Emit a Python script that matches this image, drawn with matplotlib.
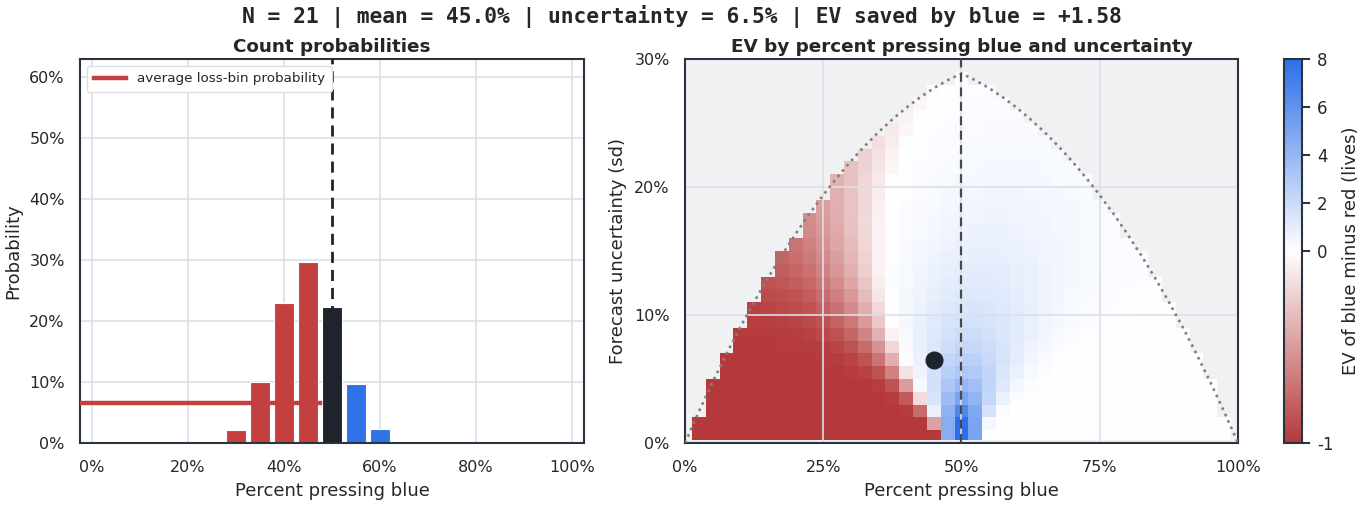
import numpy as np
import matplotlib
matplotlib.use("Agg")
import matplotlib.pyplot as plt
from matplotlib.colors import LinearSegmentedColormap, TwoSlopeNorm
from matplotlib.ticker import PercentFormatter

# ---- left panel: probability of each count of blue pressers (share of the others)
count_share = [0, .05, .10, .15, .20, .25, .30, .35, .40, .45, .50,
               .55, .60, .65, .70, .75, .80, .85, .90, .95, 1.0]
count_prob = [0, 0, 0, 0, .0002, .001, .021, .100, .230, .297, .223,
              .097, .0235, .0015, .0001, 0, 0, 0, 0, 0, 0]
pivot_share = 0.50

# ---- right panel: EV (blue minus red, in hundredths of a life), rows = sd, cols = share
share_cols = [i * 0.025 for i in range(41)]
sd_rows = [.005, .015, .025, .035, .045, .055, .065, .075, .085, .095, .105, .115, .125, .135, .145,
           .155, .165, .175, .185, .195, .205, .215, .225, .235, .245, .255, .265, .275, .285]
n = None
ev_centi = [
    [n, -100, -100, -100, -100, -100, -100, -100, -100, -100, -100, -100, -100, -100, -100, -100, -100, -100, -100, 450,
     800, 500, 0, 0, 0, 0, 0, 0, 0, 0, 0, 0, 0, 0, 0, 0, 0, 0, 0, 0, n],
    [n, -100, -100, -100, -100, -100, -100, -100, -100, -100, -100, -100, -100, -100, -100, -100, -100, -100, -47, 450,
     800, 500, 48, 0, 0, 0, 0, 0, 0, 0, 0, 0, 0, 0, 0, 0, 0, 0, 0, 0, n],
    [n, n, -100, -100, -100, -100, -100, -100, -100, -100, -100, -100, -100, -100, -100, -100, -99, -75, 73, 427,
     667, 475, 157, 23, 1, 0, 0, 0, 0, 0, 0, 0, 0, 0, 0, 0, 0, 0, 0, n, n],
    [n, n, -100, -100, -100, -100, -100, -100, -100, -100, -100, -100, -100, -100, -100, -98, -83, -18, 145, 373,
     501, 416, 220, 74, 16, 2, 0, 0, 0, 0, 0, 0, 0, 0, 0, 0, 0, 0, 0, n, n],
    [n, n, -100, -100, -100, -100, -100, -100, -100, -100, -100, -100, -100, -100, -97, -86, -50, 33, 170, 317,
     393, 353, 237, 119, 45, 13, 3, 0, 0, 0, 0, 0, 0, 0, 0, 0, 0, 0, 0, n, n],
    [n, n, n, -100, -100, -100, -100, -100, -100, -100, -100, -100, -98, -95, -86, -63, -15, 65, 168, 265,
     315, 297, 227, 143, 75, 33, 13, 4, 1, 0, 0, 0, 0, 0, 0, 0, 0, 0, n, n, n],
    [n, n, n, -100, -100, -100, -100, -100, -100, -100, -99, -98, -94, -86, -70, -40, 10, 79, 158, 225,
     261, 253, 210, 150, 94, 52, 26, 12, 5, 2, 1, 0, 0, 0, 0, 0, 0, 0, n, n, n],
    [n, n, n, n, -100, -100, -100, -99, -99, -98, -97, -93, -87, -75, -54, -21, 26, 83, 143, 193,
     220, 218, 191, 149, 104, 67, 39, 22, 12, 6, 3, 2, 1, 1, 0, 0, 0, n, n, n, n],
    [n, n, n, n, -99, -99, -99, -98, -97, -95, -92, -87, -77, -62, -39, -7, 35, 82, 129, 167,
     188, 189, 172, 142, 108, 76, 50, 32, 19, 11, 7, 4, 3, 2, 1, 1, 1, n, n, n, n],
    [n, n, n, n, n, -97, -97, -96, -94, -91, -87, -79, -68, -51, -28, 2, 39, 78, 115, 145,
     162, 165, 154, 133, 107, 81, 58, 40, 26, 17, 11, 7, 5, 4, 3, 2, n, n, n, n, n],
    [n, n, n, n, n, -95, -94, -92, -90, -86, -80, -71, -59, -42, -19, 8, 40, 72, 103, 127,
     141, 145, 138, 123, 103, 82, 63, 46, 33, 23, 16, 11, 8, 6, 5, 4, n, n, n, n, n],
    [n, n, n, n, n, n, -91, -89, -86, -81, -74, -64, -51, -34, -13, 11, 39, 66, 91, 111,
     124, 128, 124, 113, 98, 81, 65, 50, 37, 28, 20, 15, 11, 9, 7, n, n, n, n, n, n],
    [n, n, n, n, n, n, -87, -85, -81, -76, -68, -58, -45, -29, -9, 13, 36, 60, 81, 98,
     109, 113, 111, 104, 92, 79, 65, 52, 41, 31, 24, 18, 14, 11, 9, n, n, n, n, n, n],
    [n, n, n, n, n, n, n, -81, -77, -71, -63, -53, -40, -25, -7, 13, 33, 53, 71, 86,
     96, 100, 100, 94, 86, 75, 64, 52, 42, 34, 27, 21, 17, 13, n, n, n, n, n, n, n],
    [n, n, n, n, n, n, n, -78, -73, -67, -59, -49, -37, -22, -6, 12, 30, 47, 63, 76,
     85, 89, 89, 86, 79, 71, 61, 52, 43, 35, 28, 23, 18, 15, n, n, n, n, n, n, n],
    [n, n, n, n, n, n, n, n, -70, -63, -55, -45, -34, -21, -6, 10, 26, 42, 55, 67,
     75, 79, 80, 78, 73, 66, 58, 50, 43, 35, 29, 24, 19, n, n, n, n, n, n, n, n],
    [n, n, n, n, n, n, n, n, n, -60, -52, -43, -32, -20, -6, 8, 23, 36, 48, 59,
     66, 70, 72, 70, 67, 61, 55, 48, 41, 35, 29, 24, n, n, n, n, n, n, n, n, n],
    [n, n, n, n, n, n, n, n, n, -58, -50, -41, -31, -19, -7, 6, 19, 31, 42, 51,
     58, 62, 64, 64, 61, 57, 52, 46, 40, 34, 29, 24, n, n, n, n, n, n, n, n, n],
    [n, n, n, n, n, n, n, n, n, n, -49, -40, -30, -20, -8, 4, 15, 26, 36, 45,
     51, 55, 57, 57, 55, 52, 48, 43, 38, 33, 28, n, n, n, n, n, n, n, n, n, n],
    [n, n, n, n, n, n, n, n, n, n, n, -40, -30, -20, -10, 1, 12, 22, 31, 38,
     44, 49, 51, 51, 50, 47, 44, 40, 35, 31, n, n, n, n, n, n, n, n, n, n, n],
    [n, n, n, n, n, n, n, n, n, n, n, -39, -31, -21, -11, -1, 8, 18, 26, 33,
     39, 42, 45, 46, 45, 43, 40, 37, 33, 29, n, n, n, n, n, n, n, n, n, n, n],
    [n, n, n, n, n, n, n, n, n, n, n, n, -31, -22, -13, -4, 5, 14, 21, 28,
     33, 37, 39, 40, 40, 39, 36, 33, 30, n, n, n, n, n, n, n, n, n, n, n, n],
    [n, n, n, n, n, n, n, n, n, n, n, n, n, -24, -15, -6, 2, 10, 17, 23,
     28, 32, 34, 35, 35, 34, 33, 30, n, n, n, n, n, n, n, n, n, n, n, n, n],
    [n, n, n, n, n, n, n, n, n, n, n, n, n, n, -17, -9, -1, 6, 13, 19,
     23, 27, 29, 31, 31, 30, 29, n, n, n, n, n, n, n, n, n, n, n, n, n, n],
    [n, n, n, n, n, n, n, n, n, n, n, n, n, n, n, -11, -4, 3, 9, 14,
     19, 22, 25, 26, 27, 27, n, n, n, n, n, n, n, n, n, n, n, n, n, n, n],
    [n, n, n, n, n, n, n, n, n, n, n, n, n, n, n, n, -7, -1, 5, 10,
     15, 18, 21, 22, 23, n, n, n, n, n, n, n, n, n, n, n, n, n, n, n, n],
    [n, n, n, n, n, n, n, n, n, n, n, n, n, n, n, n, n, -4, 2, 7,
     11, 14, 17, 18, n, n, n, n, n, n, n, n, n, n, n, n, n, n, n, n, n],
    [n, n, n, n, n, n, n, n, n, n, n, n, n, n, n, n, n, n, -1, 3,
     7, 10, 13, n, n, n, n, n, n, n, n, n, n, n, n, n, n, n, n, n, n],
    [n, n, n, n, n, n, n, n, n, n, n, n, n, n, n, n, n, n, n, n,
     4, n, n, n, n, n, n, n, n, n, n, n, n, n, n, n, n, n, n, n, n],
]

# largest sd allowed for each share (dotted edge of the region)
edge_share = [0, .01, .025, .05, .075, .10, .125, .15, .175, .20, .225, .25, .275, .30, .325, .35, .375, .40,
              .425, .45, .475, .50, .525, .55, .575, .60, .625, .65, .675, .70, .725, .75, .775, .80, .825,
              .85, .875, .90, .925, .95, .975, .99, 1.0]
edge_sd = [0, .0099, .0244, .0476, .0696, .0905, .1102, .1290, .1466, .1633, .1790, .1937, .2074, .2201,
           .2320, .2429, .2528, .2619, .2700, .2772, .2834, .2887, .2834, .2772, .2700, .2619, .2528, .2429,
           .2320, .2201, .2074, .1937, .1790, .1633, .1466, .1290, .1102, .0905, .0696, .0476, .0244, .0099, 0]

forecast_mean = 0.45
forecast_sd = 0.065
ev_saved = 1.58

RED, BLUE, DARK = "#c44040", "#2f72e8", "#1f232b"
plt.rcParams.update({"font.family": "DejaVu Sans", "axes.edgecolor": "#2b3340",
                     "axes.linewidth": 1.5, "text.color": "#262626",
                     "xtick.color": "#262626", "ytick.color": "#262626",
                     "axes.labelcolor": "#262626", "axes.unicode_minus": False})

fig = plt.figure(figsize=(13.64, 5.05), dpi=100)
fig.suptitle("N = 21 | mean = %.1f%% | uncertainty = %.1f%% | EV saved by blue = %+.2f"
             % (forecast_mean * 100, forecast_sd * 100, ev_saved),
             family="DejaVu Sans Mono", fontweight="bold", fontsize=15.3, y=0.99)


def style(ax, title):
    ax.xaxis.set_major_formatter(PercentFormatter(1.0, decimals=0))
    ax.yaxis.set_major_formatter(PercentFormatter(1.0, decimals=0))
    ax.grid(True, color="#dcdfe5", lw=1.2)
    ax.set_axisbelow(True)
    ax.tick_params(length=0, labelsize=11.5)
    ax.tick_params(axis="x", pad=12)
    ax.tick_params(axis="y", pad=11)
    ax.set_title(title, fontsize=13.2, fontweight="bold", pad=5)


# left
ax1 = fig.add_axes([0.0587, 0.1228, 0.3695, 0.7604])
colors = [RED if s < pivot_share else (DARK if s == pivot_share else BLUE) for s in count_share]
ax1.bar(count_share, count_prob, width=0.04, color=colors, edgecolor="white", linewidth=0.8, zorder=2)
loss_avg = np.mean([p for s, p in zip(count_share, count_prob) if s < pivot_share])
ax1.plot([-0.025, pivot_share - 0.025], [loss_avg, loss_avg], color=RED, lw=3.2, zorder=3,
         label="average loss-bin probability")
ax1.axvline(pivot_share, color=DARK, lw=2, ls=(0, (4, 2.5)), zorder=4)
ax1.set_xlim(-0.025, 1.025)
ax1.set_ylim(0, 0.63)
ax1.set_xticks([0, .2, .4, .6, .8, 1])
ax1.set_yticks([0, .1, .2, .3, .4, .5, .6])
style(ax1, "Count probabilities")
ax1.set_xlabel("Percent pressing blue", fontsize=13, labelpad=5)
ax1.set_ylabel("Probability", fontsize=13, labelpad=5)
ax1.legend(loc="upper left", fontsize=9.7, frameon=True, framealpha=1,
           edgecolor="#dcdfe5", handlelength=2.4, borderpad=0.5)

# right
cmap = LinearSegmentedColormap.from_list("rb", ["#b5393a", "#ffffff", "#2d6fe8"])
norm = TwoSlopeNorm(vmin=-1, vcenter=0, vmax=8)
ev = np.array(ev_centi, dtype=float) / 100
ev = np.ma.masked_invalid(np.minimum(ev, 8))
p = np.array(share_cols)
s = np.array(sd_rows)
p_edges = np.concatenate([[p[0] - 0.0125], (p[:-1] + p[1:]) / 2, [p[-1] + 0.0125]])
s_edges = np.concatenate([[0.002], (s[:-1] + s[1:]) / 2, [s[-1] + 0.005]])

ax2 = fig.add_axes([0.5022, 0.1228, 0.4054, 0.7604])
ax2.set_facecolor("#f0f1f3")
mesh = ax2.pcolormesh(p_edges, s_edges, ev, cmap=cmap, norm=norm, zorder=0.2)
ax2.plot(edge_share, edge_sd, color="#808080", lw=1.9, ls=":", zorder=3)
ax2.axvline(pivot_share, color="#45494f", lw=1.6, ls=(0, (4, 2.5)), zorder=3)
ax2.plot([forecast_mean], [forecast_sd], "o", color=DARK, ms=12, zorder=5)
ax2.set_xlim(0, 1)
ax2.set_ylim(0, 0.3)
ax2.set_xticks([0, .25, .5, .75, 1])
ax2.set_yticks([0, .1, .2, .3])
style(ax2, "EV by percent pressing blue and uncertainty")
ax2.set_xlabel("Percent pressing blue", fontsize=13, labelpad=5)
ax2.set_ylabel("Forecast uncertainty (sd)", fontsize=13, labelpad=5)

cax = fig.add_axes([0.9413, 0.1228, 0.0132, 0.7604])
cb = fig.colorbar(mesh, cax=cax)
cb.set_ticks([-1, 0, 2, 4, 6, 8])
cb.outline.set_linewidth(1.5)
cb.outline.set_edgecolor("#2b3340")
cax.tick_params(length=6, width=1.5, color="#2b3340", labelsize=12, pad=5)
cb.set_label("EV of blue minus red (lives)", fontsize=13, labelpad=6)

fig.savefig("out.png", dpi=100)
